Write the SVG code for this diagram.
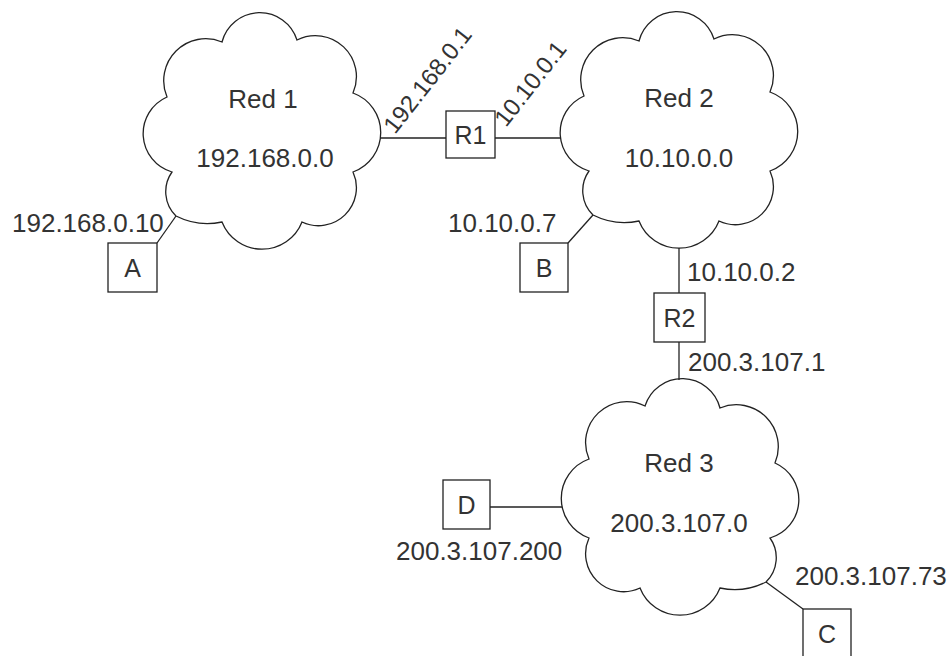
<svg xmlns="http://www.w3.org/2000/svg" width="951" height="656" viewBox="0 0 951 656">
<style>
.bg{fill:#ffffff}
.cloud{fill:none;stroke:#222;stroke-width:1.3}
.box{fill:#fff;stroke:#222;stroke-width:1.3}
.ln{stroke:#222;stroke-width:1.3;fill:none}
text{font-family:"Liberation Sans",Arial,sans-serif;font-size:26px;fill:#333}
.mid{text-anchor:middle}
.lbl{font-size:25px}
.rot{font-size:24px}
</style>
<defs>
<path id="cloudShape" d="M -40,-90 A 39 39 0 0 1 35,-92 A 41 41 0 0 1 91,-39 A 42 42 0 0 1 91,40 A 38 38 0 0 1 40,90 A 43 43 0 0 1 -40,90 A 70 70 0 0 1 -86,84 A 34 34 0 0 1 -90,40 A 40 40 0 0 1 -95,-35 A 42 42 0 0 1 -40,-90 Z"/>
</defs>
<rect class="bg" x="0" y="0" width="951" height="656"/>
<g id="connectors">
<line class="ln" x1="157" y1="243" x2="176" y2="216"/>
<line class="ln" x1="380" y1="138" x2="446" y2="138"/>
<line class="ln" x1="495" y1="138" x2="561" y2="138"/>
<line class="ln" x1="568" y1="243" x2="593" y2="215"/>
<line class="ln" x1="679" y1="248" x2="679" y2="293"/>
<line class="ln" x1="679" y1="342" x2="679" y2="380"/>
<line class="ln" x1="490" y1="507" x2="562" y2="507"/>
<line class="ln" x1="766" y1="582" x2="803" y2="609"/>
</g>
<g id="red1">
<use href="#cloudShape" class="cloud" transform="translate(262,132)"/>
<text class="mid" x="263" y="108">Red 1</text>
<text class="mid" x="265" y="167">192.168.0.0</text>
</g>
<g id="red2">
<use href="#cloudShape" class="cloud" transform="translate(679,131)"/>
<text class="mid" x="679" y="107">Red 2</text>
<text class="mid" x="679" y="167">10.10.0.0</text>
</g>
<g id="red3">
<use href="#cloudShape" class="cloud" transform="translate(680,498) scale(-1,1)"/>
<text class="mid" x="679" y="472">Red 3</text>
<text class="mid" x="679" y="532">200.3.107.0</text>
</g>
<g id="A">
<rect class="box" x="108" y="243" width="49" height="49"/>
<text class="mid lbl" x="132.5" y="277">A</text>
</g>
<g id="B">
<rect class="box" x="520" y="243" width="48" height="49"/>
<text class="mid lbl" x="544" y="277">B</text>
</g>
<g id="R1">
<rect class="box" x="446" y="111" width="49" height="47"/>
<text class="mid lbl" x="470.5" y="144">R1</text>
</g>
<g id="R2">
<rect class="box" x="654" y="293" width="51" height="49"/>
<text class="mid lbl" x="679.5" y="327">R2</text>
</g>
<g id="D">
<rect class="box" x="443" y="480" width="47" height="49"/>
<text class="mid lbl" x="466.5" y="514">D</text>
</g>
<g id="C">
<rect class="box" x="803" y="609" width="48" height="50"/>
<text class="mid lbl" x="827" y="643">C</text>
</g>
<g id="labels">
<text x="12" y="232">192.168.0.10</text>
<text x="448" y="232">10.10.0.7</text>
<text x="687" y="281">10.10.0.2</text>
<text x="688" y="371">200.3.107.1</text>
<text x="396" y="560">200.3.107.200</text>
<text x="795" y="585">200.3.107.73</text>
<text class="rot" x="395" y="135" transform="rotate(-52 395 135)">192.168.0.1</text>
<text class="rot" x="506" y="128" transform="rotate(-52 506 128)">10.10.0.1</text>
</g>
</svg>
